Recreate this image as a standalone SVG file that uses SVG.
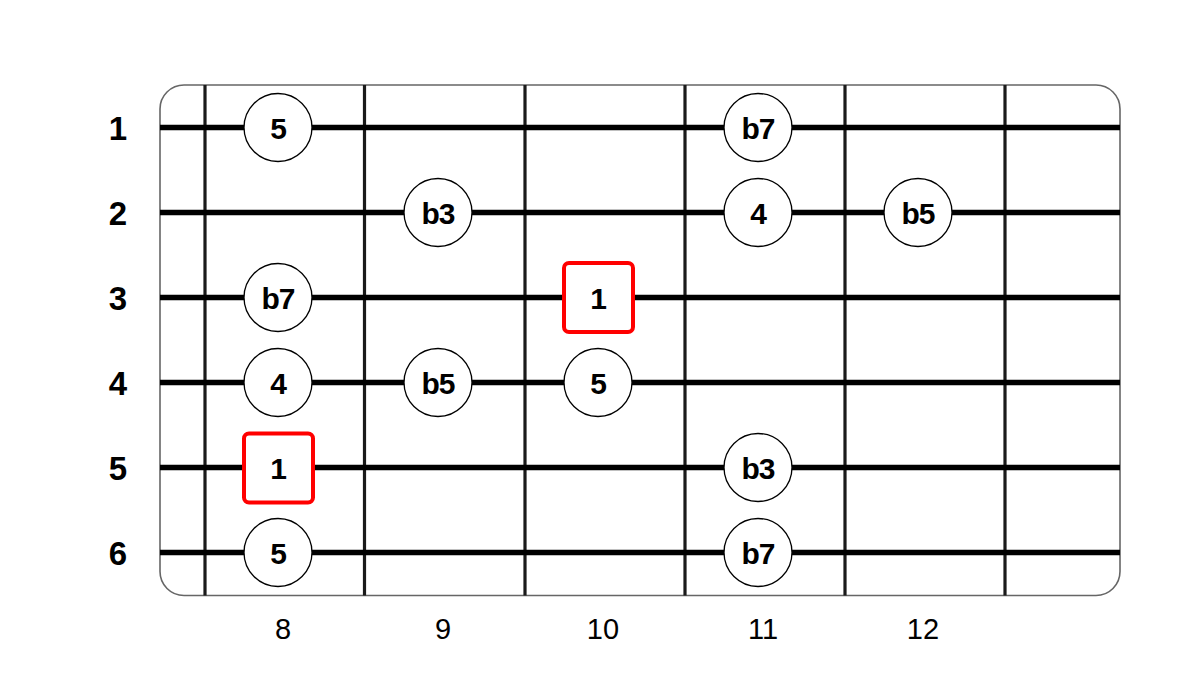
<svg xmlns="http://www.w3.org/2000/svg" width="1200" height="681" viewBox="0 0 1200 681">
<style>
.fret{stroke:#1a1a1a;stroke-width:3.2}
.str{stroke:#000;stroke-width:5.5}
.dot{fill:#fff;stroke:#000;stroke-width:1.3}
.root{fill:#fff;stroke:#f00;stroke-width:4}
.nt{font-family:"Liberation Sans",Arial,sans-serif;font-weight:bold;font-size:30px;letter-spacing:-1px;text-anchor:middle;fill:#000}
.sl{font-family:"Liberation Sans",Arial,sans-serif;font-weight:bold;font-size:33px;text-anchor:middle;fill:#000}
.fl{font-family:"Liberation Sans",Arial,sans-serif;font-size:29px;text-anchor:middle;fill:#000}
</style>
<rect width="1200" height="681" fill="#fff"/>
<g id="board">
<rect x="160" y="85" width="960" height="510.5" rx="24" fill="#fff" stroke="#666" stroke-width="1.6"/>
</g>
<g id="connectors">
<line class="fret" x1="205" y1="85" x2="205" y2="595.5"/>
<line class="fret" x1="364.5" y1="85" x2="364.5" y2="595.5"/>
<line class="fret" x1="525" y1="85" x2="525" y2="595.5"/>
<line class="fret" x1="685" y1="85" x2="685" y2="595.5"/>
<line class="fret" x1="845" y1="85" x2="845" y2="595.5"/>
<line class="fret" x1="1005" y1="85" x2="1005" y2="595.5"/>
<line class="str" x1="160" y1="127.5" x2="1120" y2="127.5"/>
<line class="str" x1="160" y1="212.5" x2="1120" y2="212.5"/>
<line class="str" x1="160" y1="297.5" x2="1120" y2="297.5"/>
<line class="str" x1="160" y1="382.5" x2="1120" y2="382.5"/>
<line class="str" x1="160" y1="467.5" x2="1120" y2="467.5"/>
<line class="str" x1="160" y1="552.5" x2="1120" y2="552.5"/>
</g>
<g id="string-labels">
<text class="sl" x="118" y="140">1</text>
<text class="sl" x="118" y="225">2</text>
<text class="sl" x="118" y="310">3</text>
<text class="sl" x="118" y="395">4</text>
<text class="sl" x="118" y="480">5</text>
<text class="sl" x="118" y="565">6</text>
</g>
<g id="fret-labels">
<text class="fl" x="283" y="639">8</text>
<text class="fl" x="443" y="639">9</text>
<text class="fl" x="603" y="639">10</text>
<text class="fl" x="763" y="639">11</text>
<text class="fl" x="923" y="639">12</text>
</g>
<g id="n-s1-f8"><circle class="dot" cx="278" cy="127.5" r="34"/><text class="nt" x="278" y="139">5</text></g>
<g id="n-s1-f11"><circle class="dot" cx="758" cy="127.5" r="34"/><text class="nt" x="758" y="139">b7</text></g>
<g id="n-s2-f9"><circle class="dot" cx="438" cy="212.5" r="34"/><text class="nt" x="438" y="224">b3</text></g>
<g id="n-s2-f11"><circle class="dot" cx="758" cy="212.5" r="34"/><text class="nt" x="758" y="224">4</text></g>
<g id="n-s2-f12"><circle class="dot" cx="918" cy="212.5" r="34"/><text class="nt" x="918" y="224">b5</text></g>
<g id="n-s3-f8"><circle class="dot" cx="278" cy="297.5" r="34"/><text class="nt" x="278" y="309">b7</text></g>
<g id="n-s3-f10"><rect class="root" x="564" y="263" width="69" height="69" rx="5"/><text class="nt" x="598" y="309">1</text></g>
<g id="n-s4-f8"><circle class="dot" cx="278" cy="382.5" r="34"/><text class="nt" x="278" y="394">4</text></g>
<g id="n-s4-f9"><circle class="dot" cx="438" cy="382.5" r="34"/><text class="nt" x="438" y="394">b5</text></g>
<g id="n-s4-f10"><circle class="dot" cx="598" cy="382.5" r="34"/><text class="nt" x="598" y="394">5</text></g>
<g id="n-s5-f8"><rect class="root" x="244" y="433.5" width="69" height="69" rx="5"/><text class="nt" x="278" y="479">1</text></g>
<g id="n-s5-f11"><circle class="dot" cx="758" cy="467.5" r="34"/><text class="nt" x="758" y="479">b3</text></g>
<g id="n-s6-f8"><circle class="dot" cx="278" cy="552.5" r="34"/><text class="nt" x="278" y="564">5</text></g>
<g id="n-s6-f11"><circle class="dot" cx="758" cy="552.5" r="34"/><text class="nt" x="758" y="564">b7</text></g>
</svg>
